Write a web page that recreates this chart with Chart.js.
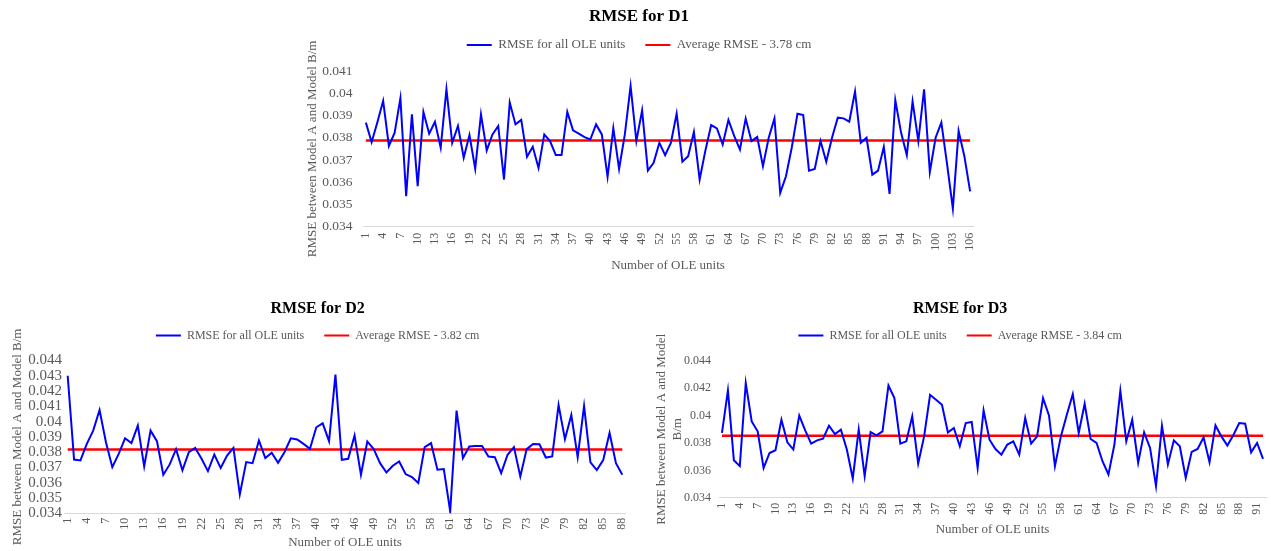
<!DOCTYPE html>
<html lang="en">
<head>
  <meta charset="UTF-8">
  <title>RMSE for D1, D2, D3</title>
  <script src="https://cdn.jsdelivr.net/npm/chart.js"></script>
  <style>
    body { margin: 0; background: #fff; width: 1271px; height: 551px; overflow: hidden; }
    .box { position: absolute; }
    #box1 { left: 300px; top: 0px; width: 685px; height: 282px; }
    #box2 { left: 0px; top: 288px; width: 640px; height: 263px; }
    #box3 { left: 650px; top: 288px; width: 621px; height: 263px; }
  </style>
</head>
<body>
  <div class="box" id="box1"><canvas id="chartD1"></canvas></div>
  <div class="box" id="box2"><canvas id="chartD2"></canvas></div>
  <div class="box" id="box3"><canvas id="chartD3"></canvas></div>
  <script>
    // RMSE per OLE unit
    const rmseD1 = [0.03868,0.0378,0.0387,0.03966,0.03763,0.03823,0.03978,0.03537,0.03905,0.03582,
      0.03916,0.03818,0.03872,0.03755,0.04018,0.03777,0.03853,0.0371,0.03812,0.03661,
      0.03905,0.03743,0.03815,0.03853,0.03612,0.03958,0.0386,0.0388,0.03714,0.03759,
      0.03664,0.03815,0.03785,0.03722,0.03722,0.03916,0.03833,0.03818,0.03803,0.03792,
      0.0386,0.03815,0.03624,0.03843,0.0366,0.03815,0.04033,0.03785,0.03923,0.03652,
      0.03687,0.03777,0.03722,0.03777,0.03908,0.03692,0.03717,0.03826,0.03612,0.03743,
      0.03857,0.03842,0.0377,0.0388,0.03808,0.03747,0.03886,0.03785,0.03803,0.03672,
      0.038,0.03887,0.03552,0.03627,0.03755,0.03908,0.03902,0.03652,0.0366,0.03785,
      0.03692,0.038,0.0389,0.03887,0.03872,0.04008,0.03777,0.038,0.03634,0.03652,
      0.03759,0.03547,0.03969,0.03823,0.03722,0.03963,0.03785,0.04018,0.03646,0.038,
      0.03868,0.0368,0.03481,0.0383,0.03717,0.03559];
    const rmseD2 = [0.043,0.03752,0.03746,0.03854,0.03941,0.04076,0.03865,0.03702,0.03789,0.03891,
      0.03859,0.03974,0.03707,0.03941,0.03872,0.03652,0.0372,0.0382,0.03681,0.038,
      0.03828,0.03757,0.03676,0.03785,0.03696,0.03778,0.03828,0.03524,0.03735,0.03728,
      0.03876,0.03761,0.03796,0.0373,0.038,0.03891,0.03883,0.03854,0.03822,0.03963,
      0.03989,0.03872,0.04308,0.0375,0.03757,0.03909,0.03652,0.0387,0.0382,0.03728,
      0.03667,0.03711,0.03739,0.03657,0.03637,0.03598,0.03833,0.03859,0.03685,0.0369,
      0.03413,0.04072,0.03761,0.03837,0.03841,0.03841,0.03772,0.03767,0.03663,0.03783,
      0.03833,0.03641,0.0382,0.03854,0.03852,0.03765,0.03772,0.04109,0.03885,0.04043,
      0.03767,0.04102,0.03733,0.03683,0.03748,0.03926,0.03728,0.03652];
    const rmseD3 = [0.03873,0.04183,0.03674,0.03631,0.04236,0.03957,0.03885,0.03618,0.03727,0.03747,
      0.03969,0.03805,0.03752,0.03999,0.03892,0.03795,0.03819,0.03831,0.03926,0.03865,
      0.03897,0.03752,0.03541,0.03897,0.03558,0.0388,0.03856,0.03885,0.04219,0.04127,
      0.03795,0.03812,0.03994,0.0365,0.03848,0.04151,0.04115,0.04078,0.03877,0.03909,
      0.03776,0.03945,0.03953,0.03618,0.04037,0.03824,0.03756,0.03715,0.03788,0.03812,
      0.03715,0.03982,0.03795,0.03848,0.04127,0.04001,0.03631,0.03848,0.04006,0.04156,
      0.03873,0.04086,0.03829,0.038,0.03667,0.0357,0.03788,0.0418,0.03812,0.03969,
      0.03655,0.03877,0.03764,0.03485,0.03926,0.03643,0.03819,0.03776,0.03546,0.03735,
      0.03756,0.03841,0.0366,0.03928,0.03848,0.03781,0.03856,0.03945,0.0394,0.03732,
      0.038,0.03684];

    // average RMSE (m) drawn as the red line
    const avgD1 = 0.03788;
    const avgD2 = 0.03817;
    const avgD3 = 0.03853;

    const avgLabelD1 = 'Average RMSE - 3.78 cm';
    const avgLabelD2 = 'Average RMSE - 3.82 cm';
    const avgLabelD3 = 'Average RMSE - 3.84 cm';

    const seriesLabel = 'RMSE for all OLE units';
    const xTitle = 'Number of OLE units';
    const yTitle = 'RMSE between Model A and Model B/m';
    const yTitleD3 = ['RMSE between Model A and Model', 'B/m'];

    const serif = "'Liberation Serif', 'Times New Roman', serif";
    const grey = '#595959';

    // fixes the legend box height so the plot starts where it does in the original
    const legendHeight = {
      id: 'legendHeight',
      beforeLayout(chart, args, opts) {
        const legend = chart.legend;
        if (!legend || legend._fixedFit) return;
        const fit = legend.fit;
        legend.fit = function () { fit.call(this); this.height = opts.height; };
        legend._fixedFit = true;
      }
    };

    function unitLabels(n) {
      return Array.from({ length: n }, (_, i) => String(i + 1));
    }

    function makeChart(id, cfg) {
      const labels = unitLabels(cfg.values.length);
      const avgLine = labels.map(() => cfg.avg);
      return new Chart(document.getElementById(id), {
        type: 'line',
        data: {
          labels: labels,
          datasets: [{
            label: seriesLabel,
            data: cfg.values,
            borderColor: '#0000ff',
            backgroundColor: '#0000ff',
            borderWidth: 2,
            pointRadius: 0,
            tension: 0,
            fill: false
          }, {
            label: cfg.avgLabel,
            data: avgLine,
            borderColor: '#ff0000',
            backgroundColor: '#ff0000',
            borderWidth: 2.5,
            pointRadius: 0,
            fill: false
          }]
        },
        plugins: [legendHeight],
        options: {
          responsive: true,
          maintainAspectRatio: false,
          animation: false,
          layout: { padding: cfg.padding },
          plugins: {
            tooltip: { enabled: false },
            legendHeight: { height: cfg.legendH },
            title: {
              display: true,
              text: cfg.title,
              color: '#000',
              font: { family: serif, size: cfg.titleSize, weight: 'bold' },
              padding: cfg.titlePad
            },
            legend: {
              labels: {
                color: grey,
                font: { family: serif, size: cfg.legendSize },
                boxWidth: 25,
                boxHeight: 2,
                padding: 20,
                generateLabels: chart => Chart.defaults.plugins.legend.labels.generateLabels(chart)
                  .map(item => Object.assign(item, { lineWidth: 0 }))
              }
            }
          },
          scales: {
            x: {
              offset: true,
              grid: { display: false, drawTicks: false },
              border: { display: true, color: '#d9d9d9', width: 1 },
              afterFit: s => { s.height = cfg.xH; s.paddingLeft = 0; s.paddingRight = 0; },
              ticks: {
                color: grey,
                font: { family: serif, size: cfg.xTickSize },
                autoSkip: false,
                maxRotation: 90,
                minRotation: 90,
                padding: cfg.xTickPad,
                callback: (v, i) => (i % 3 === 0 ? labels[i] : '')
              },
              title: {
                display: true,
                text: xTitle,
                color: grey,
                font: { family: serif, size: 13 },
                padding: { top: 0, bottom: 0 }
              }
            },
            y: {
              min: cfg.yMin,
              max: cfg.yMax,
              grid: { display: false, drawTicks: false },
              border: { display: false },
              afterFit: s => { s.width = cfg.yW; },
              ticks: {
                stepSize: cfg.yStep,
                autoSkip: false,
                color: grey,
                font: { family: serif, size: cfg.yTickSize },
                padding: cfg.yTickPad,
                callback: v => String(+v.toFixed(3))
              },
              title: {
                display: true,
                text: cfg.yTitle,
                color: grey,
                font: { family: serif, size: 13 },
                padding: { top: 0, bottom: 0 }
              }
            }
          }
        }
      });
    }

    makeChart('chartD1', {
      title: 'RMSE for D1', values: rmseD1, avg: avgD1, avgLabel: avgLabelD1,
      yMin: 0.034, yMax: 0.041, yStep: 0.001, yTitle: yTitle,
      titleSize: 17, legendSize: 13, xTickSize: 12, yTickSize: 13.5,
      titlePad: { top: 6.8, bottom: -8.7 }, legendH: 52.5,
      yW: 58, yTickPad: 10.5, xH: 46.8, xTickPad: 6,
      padding: { left: 5, right: 12, top: 0, bottom: 8.5 }
    });
    makeChart('chartD2', {
      title: 'RMSE for D2', values: rmseD2, avg: avgD2, avgLabel: avgLabelD2,
      yMin: 0.034, yMax: 0.044, yStep: 0.001, yTitle: yTitle,
      titleSize: 16, legendSize: 12, xTickSize: 12, yTickSize: 15,
      titlePad: { top: 11.4, bottom: -9.1 }, legendH: 51,
      yW: 54.8, yTickPad: 2.5, xH: 37.5, xTickPad: 4.5,
      padding: { left: 9.7, right: 14.5, top: 0, bottom: 0.2 }
    });
    makeChart('chartD3', {
      title: 'RMSE for D3', values: rmseD3, avg: avgD3, avgLabel: avgLabelD3,
      yMin: 0.034, yMax: 0.044, yStep: 0.002, yTitle: yTitleD3,
      titleSize: 16, legendSize: 12, xTickSize: 12, yTickSize: 12,
      titlePad: { top: 11.4, bottom: -9.1 }, legendH: 51.2,
      yW: 64.8, yTickPad: 8, xH: 40, xTickPad: 5,
      padding: { left: 4.2, right: 5, top: 0, bottom: 13.2 }
    });
  </script>
</body>
</html>
